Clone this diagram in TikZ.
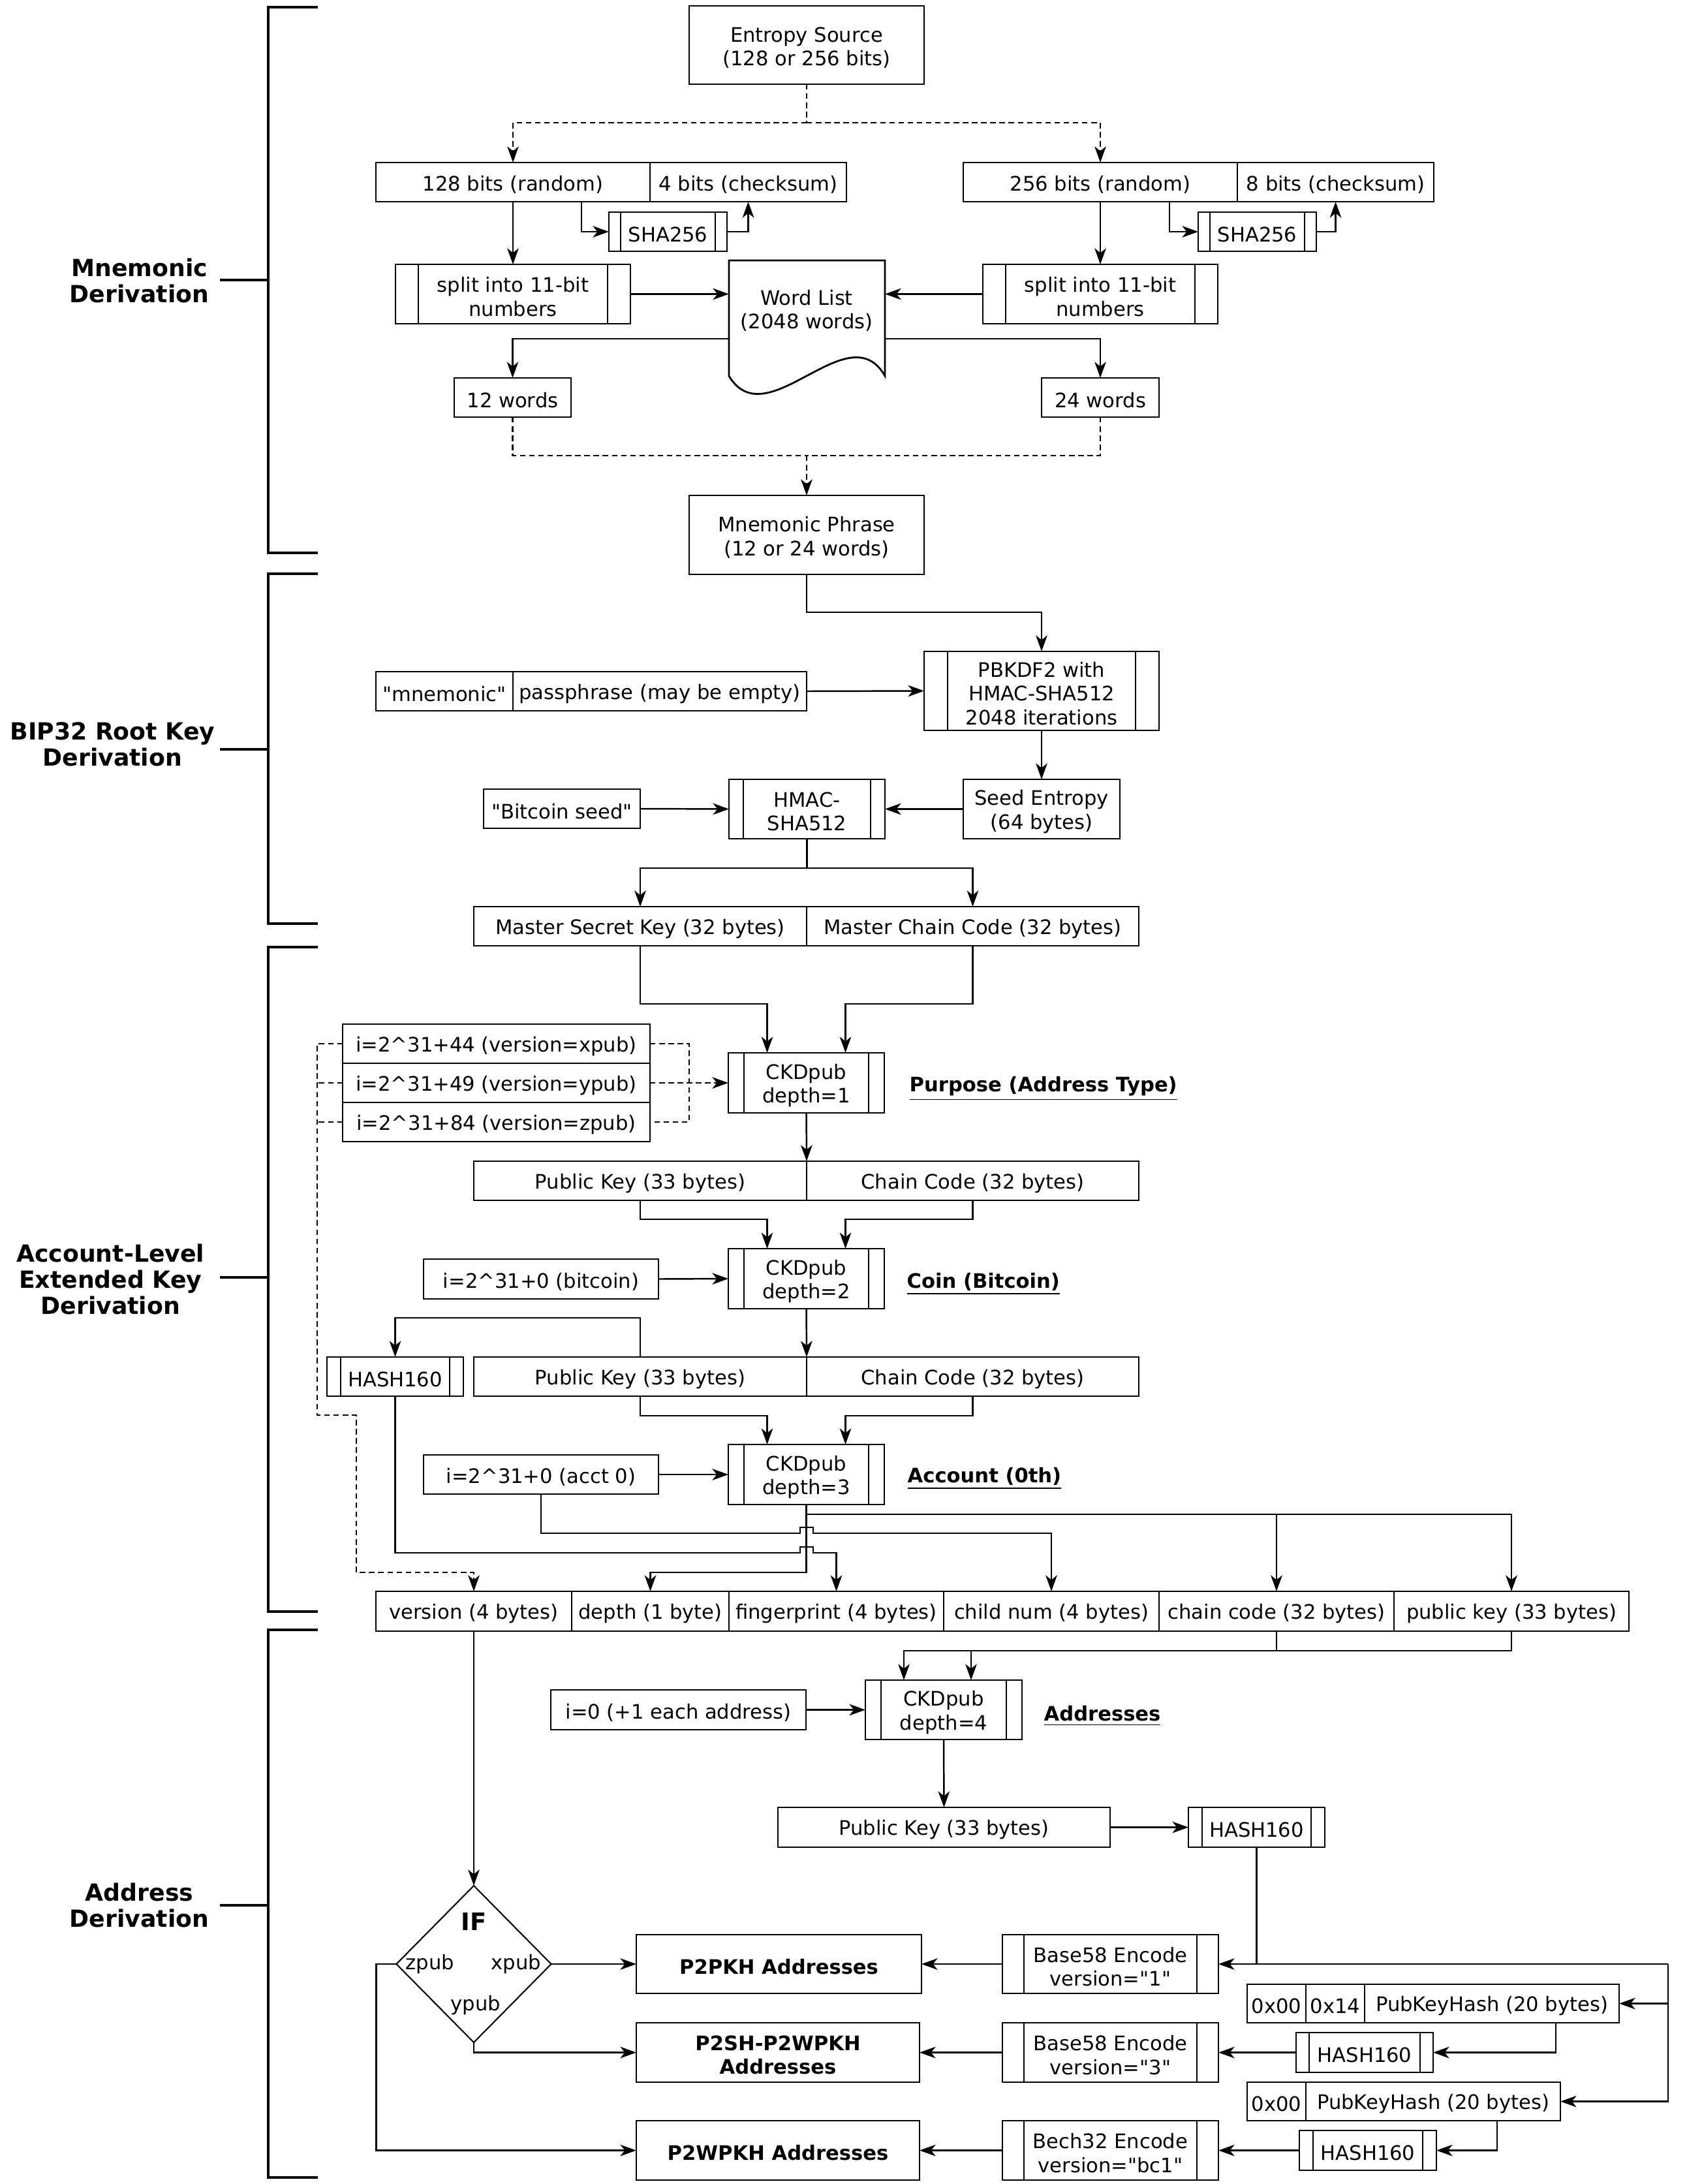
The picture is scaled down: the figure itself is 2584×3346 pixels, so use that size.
\documentclass[tikz,border=0pt]{standalone}
\usepackage{fontspec}
\setmainfont{DejaVu Sans}
\newfontfamily\qfont{DejaVu Sans}
\usetikzlibrary{arrows.meta,shapes.geometric,calc}
\newcommand\dq{{\qfont"}}
\newcommand\ftR{\fontsize{8.7pt}{10.3pt}\selectfont}
\newcommand\ftB{\fontsize{8.7pt}{10.3pt}\selectfont\bfseries}
\newcommand\ftL{\fontsize{10.3pt}{11.4pt}\selectfont\bfseries}
\newcommand\ftIF{\fontsize{10.5pt}{12pt}\selectfont\bfseries}
\newcommand\boxnode[7][]{\node[box,minimum width={(#5-#3)*0.01cm},minimum height={(#6-#4)*0.01cm}] (#2) at ({(#3+#5)/2},{(#4+#6)/2}) {};
  \node[txt,#1] (#2-t) at ($(#2.center)+(0,4)$) {#7};}
\newcommand\procbox[8][]{\boxnode[#1]{#2}{#3}{#4}{#5}{#6}{#8}\draw[inl] ([xshift={#7*0.01cm}]#2.north west) -- ([xshift={#7*0.01cm}]#2.south west) ([xshift={-#7*0.01cm}]#2.north east) -- ([xshift={-#7*0.01cm}]#2.south east);}
\begin{document}
\begin{tikzpicture}[x=0.01cm,y=-0.01cm,
  box/.style={draw,line width=0.8pt,inner sep=0pt,outer sep=0pt},
  inl/.style={line width=0.6pt},
  ln/.style={line width=0.7pt},
  con/.style={line width=0.7pt,-{Stealth[length=7pt,width=5pt,inset=2pt]}},
  dsh/.style={dash pattern=on 2.4pt off 1.6pt},
  hd/.style={font=\ftB,anchor=west,inner sep=0pt},
  sec/.style={font=\ftL,align=center,anchor=east,inner sep=0pt},
  brk/.style={line width=1.3pt},
  brt/.style={line width=1.1pt},
  bb/.style={font=\ftB},
  txt/.style={font=\ftR,align=center,inner sep=0pt}]
\useasboundingbox (0,0) rectangle (2584,3346);

% ---------- section brackets ----------
\node[sec] (s1) at (321,430) {Mnemonic\\Derivation};
\node[sec] (s2) at (330,1140) {BIP32 Root Key\\Derivation};
\node[sec] (s3) at (314,1960) {Account-Level\\Extended Key\\Derivation};
\node[sec] (s4) at (321,2919) {Address\\Derivation};
\draw[brk] (487,11) -- (411,11) -- (411,847) -- (487,847);
\draw[brk] (487,879) -- (411,879) -- (411,1415) -- (487,1415);
\draw[brk] (487,1451) -- (411,1451) -- (411,2469) -- (487,2469);
\draw[brk] (487,2497) -- (411,2497) -- (411,3336) -- (487,3336);
\draw[brt] (337,429) -- (411,429);
\draw[brt] (337,1148) -- (411,1148);
\draw[brt] (337,1957) -- (411,1957);
\draw[brt] (337,2919) -- (411,2919);

% ---------- mnemonic derivation ----------
\boxnode{ent}{1056}{9}{1416}{129}{Entropy Source\\(128 or 256 bits)}
\boxnode{r128}{576}{249}{996}{309}{128 bits (random)}
\boxnode{c4}{996}{249}{1297}{309}{4 bits (checksum)}
\boxnode{r256}{1476}{249}{1896}{309}{256 bits (random)}
\boxnode{c8}{1896}{249}{2197}{309}{8 bits (checksum)}
\procbox{shaL}{933}{325}{1114}{385}{18}{SHA256}
\procbox{shaR}{1836}{325}{2017}{385}{18}{SHA256}
\procbox{splL}{606}{405}{966}{496}{35}{split into 11-bit\\numbers}
\procbox{splR}{1506}{405}{1866}{496}{35}{split into 11-bit\\numbers}
\node[inner sep=0pt,outer sep=0pt,minimum width=2.39cm,minimum height=1.77cm] (wl) at (1236.5,487.5) {};
\draw[line width=0.8pt] (wl.south west) -- (wl.north west) -- (wl.north east) -- (wl.south east)
  .. controls (1300,478) and (1175,672) .. (wl.south west);
\node[txt] (wltxt) at (1236,476) {Word List\\(2048 words)};
\boxnode{w12}{696}{579}{875}{639}{12 words}
\boxnode{w24}{1596}{579}{1776}{639}{24 words}
\boxnode{mn}{1056}{759}{1416}{880}{Mnemonic Phrase\\(12 or 24 words)}

\draw[ln,dsh] (ent.south) -- ++(0,59) coordinate (j1);
\draw[con,dsh] (j1) -| (r128.north);
\draw[con,dsh] (j1) -| (r256.north);
\draw[con] (r128.south) -- (splL.north);
\draw[con] (r256.south) -- (splR.north);
\draw[con] ($(r128.south)+(105,0)$) |- (shaL.west);
\draw[con] (shaL.east) -| (c4.south);
\draw[con] ($(r256.south)+(106,0)$) |- (shaR.west);
\draw[con] (shaR.east) -| (c8.south);
\draw[con] (splL.east) -- (splL.east -| wl.west);
\draw[con] (splR.west) -- (splR.west -| wl.east);
\draw[con] (wl.west |- 0,519) -| (w12.north);
\draw[con] (wl.east |- 0,519) -| (w24.north);
\draw[ln,dsh] (w12.south) -- ++(0,59) coordinate (d1) -- (1236,698) coordinate (j2);
\draw[ln,dsh] (w24.south) |- (j2);
\draw[con,dsh] (j2) -- (mn.north);

% ---------- BIP32 root key ----------
\procbox{pb}{1416}{998}{1776}{1119}{36}{PBKDF2 with\\HMAC-SHA512\\2048 iterations}
\boxnode{mq}{576}{1029}{786}{1089}{\dq mnemonic\dq}
\boxnode{pp}{786}{1029}{1236}{1089}{passphrase (may be empty)}
\boxnode{se}{1476}{1194}{1716}{1285}{Seed Entropy\\(64 bytes)}
\procbox{hm}{1117}{1194}{1356}{1285}{22}{HMAC-\\SHA512}
\boxnode{bs}{741}{1209}{981}{1269}{\dq Bitcoin seed\dq}
\boxnode{msk}{726}{1389}{1236}{1449}{Master Secret Key (32 bytes)}
\boxnode{mcc}{1236}{1389}{1745}{1449}{Master Chain Code (32 bytes)}

\draw[con] (mn.south) -- ++(0,58) -| (pb.north);
\draw[con] (pp.east) -- (pb.west);
\draw[con] (pb.south) -- (se.north);
\draw[con] (bs.east) -- (hm.west);
\draw[con] (se.west) -- (hm.east);
\draw[ln] (hm.south) -- ++(0,45) coordinate (j3);
\draw[con] (j3) -| (msk.north);
\draw[con] (j3) -| (mcc.north);

% ---------- account-level ----------
\procbox{ck1}{1116}{1613}{1355}{1705}{24}{CKDpub\\depth=1}
\boxnode{ix}{525}{1569}{996}{1629}{i=2\textasciicircum31+44 (version=xpub)}
\boxnode{iy}{525}{1629}{996}{1689}{i=2\textasciicircum31+49 (version=ypub)}
\boxnode{iz}{525}{1689}{996}{1749}{i=2\textasciicircum31+84 (version=zpub)}
\node[hd] (t1) at (1393,1668) {\underline{Purpose (Address Type)}};
\boxnode{pk1}{726}{1779}{1236}{1839}{Public Key (33 bytes)}
\boxnode{cc1}{1236}{1779}{1745}{1839}{Chain Code (32 bytes)}
\procbox{ck2}{1116}{1913}{1355}{2005}{24}{CKDpub\\depth=2}
\boxnode{ib}{649}{1929}{1009}{1990}{i=2\textasciicircum31+0 (bitcoin)}
\node[hd] (t2) at (1389,1967) {\underline{Coin (Bitcoin)}};
\boxnode{pk2}{726}{2079}{1236}{2139}{Public Key (33 bytes)}
\boxnode{cc2}{1236}{2079}{1745}{2139}{Chain Code (32 bytes)}
\procbox{h1}{501}{2079}{710}{2139}{21}{HASH160}
\procbox{ck3}{1116}{2213}{1355}{2305}{24}{CKDpub\\depth=3}
\boxnode{ia}{649}{2229}{1009}{2289}{i=2\textasciicircum31+0 (acct 0)}
\node[hd] (t3) at (1390,2265) {\underline{Account (0th)}};

\boxnode{ver}{576}{2438}{876}{2499}{version (4 bytes)}
\boxnode{dep}{876}{2438}{1117}{2499}{depth (1 byte)}
\boxnode{fp}{1117}{2438}{1446}{2499}{fingerprint (4 bytes)}
\boxnode{cn}{1446}{2438}{1776}{2499}{child num (4 bytes)}
\boxnode{cc}{1776}{2438}{2136}{2499}{chain code (32 bytes)}
\boxnode{pub}{2136}{2438}{2496}{2499}{public key (33 bytes)}

\draw[con] (msk.south) -- ++(0,89) -| ($(ck1.north)+(-60,0)$);
\draw[con] (mcc.south) -- ++(0,89) -| ($(ck1.north)+(60,0)$);
\draw[ln,dsh] (ix.east) -- ++(60,0) |- (iz.east);
\draw[con,dsh] (iy.east) -- (ck1.west);
\draw[ln,dsh] (iy.west) -- ++(-39,0);
\draw[ln,dsh] (iz.west) -- ++(-39,0);
\draw[con,dsh] (ix.west) -- ++(-39,0) -- (486,2168) -- (546,2168) -- (546,2409) -| (ver.north);
\draw[con] (ck1.south) -- (pk1.north east);
\draw[con] (pk1.south) -- ++(0,29) -| ($(ck2.north)+(-60,0)$);
\draw[con] (cc1.south) -- ++(0,29) -| ($(ck2.north)+(60,0)$);
\draw[con] (ib.east) -- (ck2.west);
\draw[con] (ck2.south) -- (pk2.north east);
\draw[con] (pk2.north) -- ++(0,-60) -| (h1.north);
\draw[con] (pk2.south) -- ++(0,30) -| ($(ck3.north)+(-60,0)$);
\draw[con] (cc2.south) -- ++(0,30) -| ($(ck3.north)+(60,0)$);
\draw[con] (ia.east) -- (ck3.west);
\draw[con] (ck3.south) -- ++(0,104) -| (dep.north);
\draw[con] (ck3.south |- 0,2320) -| (pub.north);
\draw[con] (cc.north |- 0,2320) -- (cc.north);
\draw[con] (ia.south) -- ++(0,60) -- (1226,2349) -- (1226,2340) -- (1246,2340) -- (1246,2349) -| (cn.north);
\draw[con] (h1.south) -- ++(0,240) -- (1226,2379) -- (1226,2370) -- (1246,2370) -- (1246,2379) -| (fp.north);

% ---------- address derivation ----------
\procbox{ck4}{1326}{2574}{1566}{2665}{24}{CKDpub\\depth=4}
\boxnode{ie}{844}{2589}{1235}{2650}{i=0 (+1 each address)}
\node[hd] (t4) at (1599,2629) {\underline{Addresses}};
\boxnode{pk3}{1192}{2769}{1701}{2830}{Public Key (33 bytes)}
\procbox{h2}{1821}{2769}{2030}{2830}{21}{HASH160}
\node[diamond,draw,line width=0.6pt,inner sep=0pt,outer sep=0pt,minimum width=2.37cm,minimum height=2.40cm] (ifd) at (726,3009) {};
\node[font=\ftIF,inner sep=0pt] (iflab) at (726,2944) {IF};
\node[txt] (zp) at (659,3009) {zpub};
\node[txt] (xp) at (791,3009) {xpub};
\node[txt] (yp) at (729,3072) {ypub};
\boxnode[bb]{p2pkh}{975}{2964}{1412}{3054}{P2PKH Addresses}
\procbox{b58a}{1536}{2964}{1867}{3054}{33}{Base58 Encode\\version=\dq 1\dq}
\boxnode{w1a}{1911}{3040}{2001}{3099}{0x00}
\boxnode{w1b}{2001}{3040}{2091}{3099}{0x14}
\boxnode{w1c}{2091}{3040}{2481}{3099}{PubKeyHash (20 bytes)}
\procbox{h3}{1986}{3114}{2196}{3175}{20}{HASH160}
\procbox{b58b}{1536}{3099}{1867}{3190}{33}{Base58 Encode\\version=\dq 3\dq}
\boxnode[bb]{p2sh}{975}{3099}{1409}{3190}{P2SH-P2WPKH\\Addresses}
\boxnode{w2a}{1911}{3190}{2001}{3249}{0x00}
\boxnode{w2b}{2001}{3190}{2391}{3249}{PubKeyHash (20 bytes)}
\procbox{h4}{1991}{3264}{2201}{3325}{21}{HASH160}
\procbox{bech}{1536}{3249}{1867}{3340}{33}{Bech32 Encode\\version=\dq bc1\dq}
\boxnode[bb]{p2wpkh}{975}{3249}{1409}{3340}{P2WPKH Addresses}

\draw[ln] (cc.south) -- ++(0,30);
\draw[con] (pub.south) -- ++(0,30) -| ($(ck4.north)+(-61,0)$);
\draw[con] ($(ck4.north)+(42,-45)$) -- ($(ck4.north)+(42,0)$);
\draw[con] (ie.east) -- (ck4.west);
\draw[con] (ck4.south) -- (pk3.north);
\draw[con] (pk3.east) -- (h2.west);
\draw[con] (ver.south) -- (ifd.north);
\draw[con] (ifd.east) -- (p2pkh.west);
\draw[con] (b58a.west) -- (p2pkh.east);
\draw[con] (h2.south) |- (b58a.east);
\draw[ln] (h2.south |- b58a.east) -- (2556,3009) coordinate (rr);
\draw[con] (rr) |- (w2b.east);
\draw[con] (rr |- w1c.east) -- (w1c.east);
\draw[con] ($(w1c.south)+(98,0)$) |- (h3.east);
\draw[con] (h3.west) -- (b58b.east);
\draw[con] (b58b.west) -- (p2sh.east);
\draw[con] (ifd.south) |- (p2sh.west);
\draw[con] ($(w2b.south)+(98,0)$) |- (h4.east);
\draw[con] (h4.west) -- (bech.east);
\draw[con] (bech.west) -- (p2wpkh.east);
\draw[con] (ifd.west) -- ++(-31,0) |- (p2wpkh.west);
\end{tikzpicture}
\end{document}
